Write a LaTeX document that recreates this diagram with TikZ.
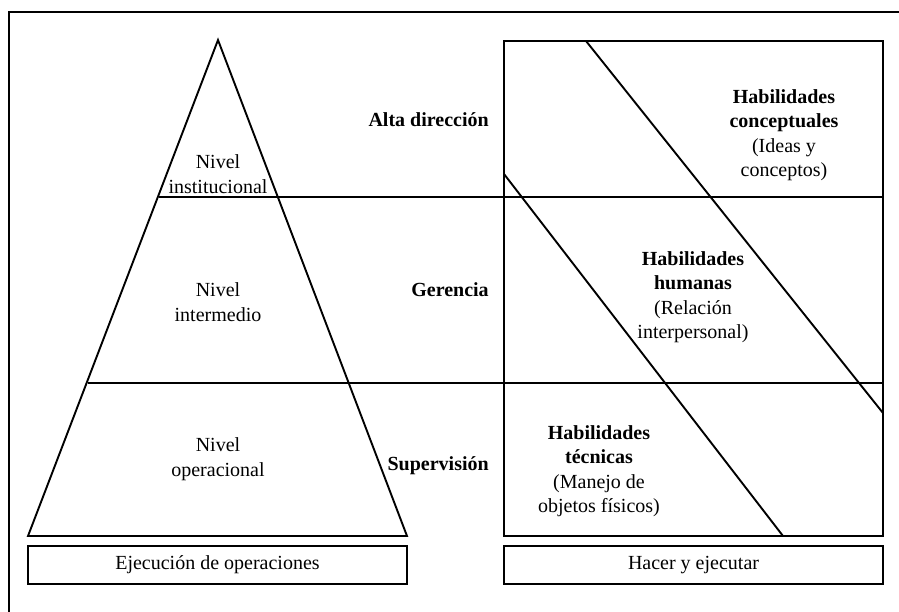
\documentclass[tikz,border=0pt]{standalone}
\usepackage{fontspec}
\setmainfont{Liberation Serif}

\begin{document}
\begin{tikzpicture}[x=1pt,y=-1pt,line width=1.9pt,
    txt/.style={align=center,font=\fontsize{20}{24.5}\selectfont},
    rank text/.style={anchor=east,font=\bfseries\fontsize{20}{24.5}\selectfont},
    base box/.style={draw,minimum width=379pt,minimum height=38pt,inner sep=0pt,
      font=\fontsize{20}{24.5}\selectfont}]

  \useasboundingbox (0,0) rectangle (899,612);

  % outer frame (cut at the right and bottom)
  \draw[line width=1.6pt] (9,612) -- (9,12) -- (899,12);

  % pyramid
  \coordinate (apex) at (218,40);
  \coordinate (baseL) at (28,536);
  \coordinate (baseR) at (407,536);
  \draw (apex) -- (baseL) -- (baseR) -- cycle;

  % skills box
  \coordinate (boxNW) at (504,41);
  \coordinate (boxSE) at (883,536);
  \draw (boxNW) rectangle (boxSE);

  % level lines
  \draw (159,197) -- (883,197);
  \draw (88,383) -- (883,383);

  % diagonals
  \draw (586,41) -- (883,413);
  \draw (504,174) -- (783,536);

  \node[txt] (inst) at (218,174) {Nivel\\institucional};
  \node[txt] (inter) at (218,302) {Nivel\\intermedio};
  \node[txt] (oper) at (218,459) {Nivel\\operacional};

  \node[rank text] (alta) at (493,120) {Alta dirección};
  \node[rank text] (geren) at (493,290) {Gerencia};
  \node[rank text] (super) at (493,466) {Supervisión};

  \node[txt] (concep) at (784,135) {\textbf{Habilidades}\\\textbf{conceptuales}\\(Ideas y\\conceptos)};
  \node[txt] (human) at (693,297) {\textbf{Habilidades}\\\textbf{humanas}\\(Relación\\interpersonal)};
  \node[txt] (tecn) at (599,471) {\textbf{Habilidades}\\\textbf{técnicas}\\(Manejo de\\objetos físicos)};

  \node[base box] (ejec) at (217.5,565) {Ejecución de operaciones};
  \node[base box] (hacer) at (693.5,565) {Hacer y ejecutar};

\end{tikzpicture}
\end{document}
